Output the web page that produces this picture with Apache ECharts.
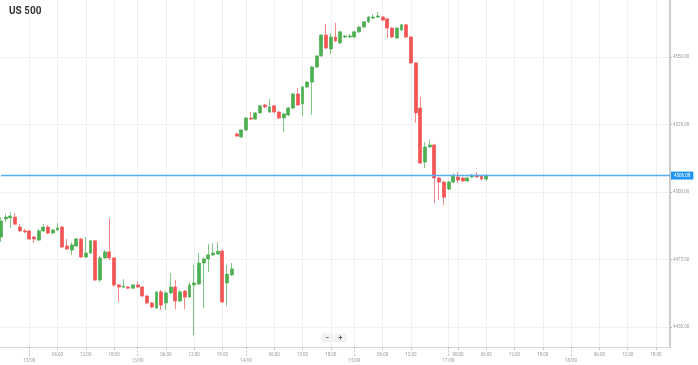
<!DOCTYPE html>
<html><head><meta charset="utf-8">
<script src="https://cdn.jsdelivr.net/npm/echarts@6/dist/echarts.min.js"></script>
<style>html,body{margin:0;padding:0;background:#fff}#c{width:698px;height:365px}</style>
</head><body><div id="c"></div>
<script>
// hourly trading sessions on the axis: [day, first hour, last hour]
const sessions = [['11/09',17,22],['12/09',0,22],['13/09',0,22],['14/09',0,22],['15/09',0,19],['17/09',22,23],['18/09',0,23],['19/09',0,21]];
const categories = [];
sessions.forEach(([d,a,b]) => { for (let h = a; h <= b; h++) categories.push(d + ' ' + String(h).padStart(2,'0') + ':00'); });

const dateMarks = {'12/09 00:00':'12/09','13/09 00:00':'13/09','14/09 00:00':'14/09','15/09 00:00':'15/09','17/09 22:00':'17/09','19/09 00:00':'18/09'};
const timeMarks = {
  '12/09 06:00':'06:00','12/09 12:00':'12:00','12/09 18:00':'18:00',
  '13/09 06:00':'06:00','13/09 12:00':'12:00','13/09 18:00':'18:00',
  '14/09 06:00':'06:00','14/09 12:00':'12:00','14/09 18:00':'18:00',
  '15/09 06:00':'06:00','15/09 12:00':'12:00',
  '18/09 00:00':'00:00','18/09 06:00':'06:00','18/09 12:00':'12:00','18/09 18:00':'18:00',
  '19/09 06:00':'06:00','19/09 12:00':'12:00','19/09 18:00':'18:00'
};

const opens = [4483.3,4490.0,4490.4,4490.7,4487.0,4485.6,4485.6,4483.3,4482.2,4485.6,4487.0,4484.8,4485.9,4487.0,4480.0,4478.5,4480.0,4482.6,4475.9,4477.4,
4481.9,4467.4,4475.6,4477.8,4475.6,4465.6,4464.8,4464.8,4464.4,4465.6,4464.8,4461.5,4458.9,4457.0,4463.0,4458.9,4462.6,4464.8,4459.6,4463.3,
4461.1,4465.6,4465.9,4473.7,4475.2,4476.7,4477.0,4478.1,4466.3,4469.3,4521.5,4520.4,4523.0,4527.4,4527.0,4529.3,4532.2,4529.6,4531.9,4529.6,
4527.4,4528.5,4531.1,4536.3,4532.6,4538.9,4540.7,4546.3,4550.4,4558.1,4553.0,4557.4,4555.2,4557.4,4557.4,4557.4,4559.3,4561.1,4563.0,4564.4,
4564.8,4564.8,4564.1,4560.7,4557.0,4560.0,4561.9,4557.4,4547.8,4531.1,4511.1,4516.7,4517.4,4505.2,4503.7,4501.1,4503.7,4505.6,4505.2,4504.1,
4505.6,4506.3,4505.9,4504.8];
const closes = [4489.3,4490.7,4491.1,4488.1,4485.6,4485.2,4482.6,4482.6,4485.6,4487.0,4484.8,4485.9,4486.7,4479.6,4478.9,4480.4,4482.6,4475.9,4477.4,4481.9,
4467.4,4475.6,4477.8,4475.6,4465.6,4464.8,4465.2,4464.4,4465.6,4464.8,4461.5,4458.9,4457.4,4463.0,4458.1,4462.6,4464.8,4459.6,4463.0,4461.1,
4465.6,4466.3,4473.7,4475.2,4476.7,4477.4,4478.1,4459.3,4469.6,4471.5,4520.7,4523.0,4527.4,4527.0,4529.3,4531.9,4531.5,4531.5,4529.6,4527.4,
4528.9,4531.1,4536.3,4532.2,4538.9,4540.7,4546.3,4550.4,4558.1,4553.3,4557.4,4555.9,4559.3,4557.8,4557.8,4559.3,4561.1,4563.0,4564.8,4564.8,
4565.2,4563.7,4560.7,4557.4,4560.7,4561.9,4557.4,4547.8,4529.3,4510.7,4516.7,4517.4,4505.2,4503.7,4498.1,4503.7,4505.9,4504.4,4504.1,4505.2,
4506.3,4505.6,4504.8,4506.08];
const lows = [4481.5,4488.9,4486.7,4487.8,4485.2,4484.8,4482.2,4481.1,4481.8,4485.2,4484.4,4484.4,4485.6,4479.3,4478.5,4476.7,4479.6,4475.6,4475.6,4477.0,
4467.0,4466.7,4475.2,4474.8,4464.8,4459.3,4464.4,4464.1,4464.1,4464.4,4461.1,4458.5,4457.0,4456.7,4456.3,4456.3,4462.2,4456.7,4459.3,4456.7,
4460.7,4447.0,4465.6,4457.0,4470.4,4476.3,4476.7,4458.9,4457.8,4469.0,4520.4,4520.0,4522.6,4526.7,4526.7,4529.0,4531.1,4529.3,4529.3,4527.0,
4522.2,4528.1,4530.7,4531.9,4528.1,4538.5,4528.5,4545.9,4550.0,4553.0,4551.1,4555.6,4554.8,4557.0,4557.0,4557.0,4558.9,4560.7,4562.6,4564.1,
4564.4,4563.3,4557.0,4557.0,4556.7,4559.6,4557.0,4547.4,4525.6,4510.4,4508.9,4516.3,4495.9,4497.0,4495.2,4500.7,4503.3,4503.3,4503.7,4503.7,
4505.2,4505.2,4504.4,4504.1];
const highs = [4490.7,4491.8,4492.6,4492.2,4488.1,4486.3,4485.9,4483.7,4486.3,4488.1,4487.8,4486.3,4488.5,4487.4,4482.6,4481.5,4483.0,4483.0,4483.3,4482.2,
4482.2,4476.3,4478.5,4490.4,4475.9,4466.0,4467.8,4465.2,4466.0,4466.7,4465.2,4461.9,4459.3,4463.3,4463.7,4463.3,4470.0,4467.4,4463.7,4463.7,
4466.7,4473.0,4477.4,4475.9,4480.7,4481.1,4481.5,4478.9,4473.0,4473.7,4521.9,4523.3,4527.8,4529.6,4529.6,4532.2,4532.6,4534.4,4532.2,4530.0,
4529.3,4531.5,4536.7,4538.5,4539.3,4541.1,4546.7,4550.7,4558.5,4562.2,4558.9,4562.6,4559.6,4558.1,4558.5,4559.6,4561.5,4563.3,4565.2,4565.9,
4566.7,4565.2,4564.4,4561.1,4561.1,4562.2,4562.2,4557.8,4548.1,4535.2,4518.5,4519.3,4517.8,4505.6,4504.1,4504.1,4507.0,4507.4,4505.6,4505.6,
4506.7,4507.4,4506.3,4506.7];

const yTicks = [4450, 4475, 4500, 4525, 4550];
const yMin = 4442.6, yMax = 4571.1;
const lastPrice = 4506.08;

const candles = opens.map((o, i) => [o, closes[i], lows[i], highs[i]]);

const chart = echarts.init(document.getElementById('c'), null, {renderer: 'canvas'});
const FONT = 'Roboto';
chart.setOption({
  animation: false,
  backgroundColor: '#fff',
  textStyle: {fontFamily: FONT},
  grid: {left: 1, right: 28, top: 0, bottom: 18},
  xAxis: [{
    type: 'category', data: categories, boundaryGap: false,
    axisLine: {show: true, lineStyle: {color: '#d6d6d6', width: 1}},
    axisTick: {show: true, length: 3, interval: (i, v) => !!timeMarks[v], lineStyle: {color: '#c8c8c8'}},
    axisLabel: {
      show: true, interval: (i, v) => !!(timeMarks[v] || dateMarks[v]), margin: 5,
      fontSize: 4.5, color: '#9a9a9a', lineHeight: 6, fontFamily: FONT,
      formatter: v => timeMarks[v] ? timeMarks[v] : (dateMarks[v] ? '\n' + dateMarks[v] : '')
    },
    splitLine: {show: true, interval: (i, v) => !!(timeMarks[v] || dateMarks[v]), lineStyle: {color: '#f0f0f0', width: 1}}
  }, {
    type: 'category', data: categories, boundaryGap: false, position: 'bottom',
    axisLine: {show: false},
    axisTick: {show: true, length: 9, interval: (i, v) => !!dateMarks[v], lineStyle: {color: '#c0c0c0', type: [2, 1.5]}},
    axisLabel: {show: false}, splitLine: {show: false}
  }],
  yAxis: {
    type: 'value', position: 'right', min: yMin, max: yMax,
    axisLine: {show: true, lineStyle: {color: '#cccccc', width: 2}},
    axisTick: {show: true, length: 2, customValues: yTicks, lineStyle: {color: '#bdbdbd'}},
    axisLabel: {show: true, margin: 3, fontSize: 4.5, color: '#9a9a9a', fontFamily: FONT, customValues: yTicks, formatter: v => v.toFixed(2)},
    splitLine: {show: true, lineStyle: {color: '#f0f0f0', width: 1}}
  },
  series: [{
    type: 'candlestick', data: candles, barWidth: 3.4,
    itemStyle: {color: '#4caf50', color0: '#f45454', borderColor: '#4caf50', borderColor0: '#f45454', borderWidth: 0.7},
    markLine: {
      symbol: ['none', 'none'], silent: true,
      lineStyle: {color: '#52adf2', width: 1.4, type: 'solid'},
      label: {show: true, position: 'end', distance: 1, formatter: () => lastPrice.toFixed(2),
        color: '#fff', backgroundColor: '#2196f3', fontSize: 4.5, padding: [1.5, 3, 1.5, 3], fontFamily: FONT},
      data: [{yAxis: lastPrice}]
    }
  }],
  graphic: [
    {type: 'text', left: 9, top: 6, style: {text: 'US 500', font: 'bold 10px Roboto', fill: '#333'}},
    {type: 'rect', shape: {x: 322, y: 334, width: 11, height: 8, r: 1}, style: {fill: '#f4f4f4', stroke: '#e4e4e4', lineWidth: 0.5}},
    {type: 'rect', shape: {x: 335, y: 334, width: 11, height: 8, r: 1}, style: {fill: '#f4f4f4', stroke: '#e4e4e4', lineWidth: 0.5}},
    {type: 'text', x: 327.5, y: 338, style: {text: '−', font: 'bold 7px Roboto', fill: '#555', align: 'center', verticalAlign: 'middle'}},
    {type: 'text', x: 340.5, y: 338, style: {text: '+', font: 'bold 7px Roboto', fill: '#555', align: 'center', verticalAlign: 'middle'}}
  ]
});
</script></body></html>
